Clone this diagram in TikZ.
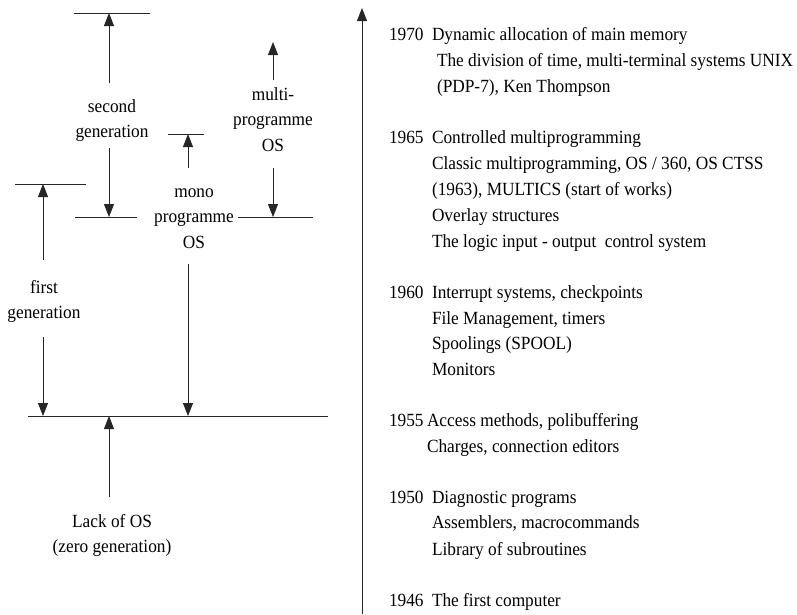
\documentclass[tikz,border=0pt]{standalone}
\usepackage{fontspec}
\setmainfont[FakeStretch=0.93]{Liberation Serif}
\usetikzlibrary{arrows.meta}
\newcommand{\stackc}[1]{\begin{tabular}[t]{@{}c@{}}#1\end{tabular}}
\begin{document}
\begin{tikzpicture}[x=1pt,y=-1pt,
  every node/.style={inner sep=0pt,outer sep=0pt,font=\fontsize{18.6}{25.5}\selectfont},
  bar/.style={line width=0.9pt,draw=black!85},
  conn/.style={line width=0.9pt,draw=black!85,-{Triangle[length=13pt,width=10pt]}},
  lbl/.style={anchor=base},
  ent/.style={anchor=base west}]
\useasboundingbox (0,0) rectangle (797,614);

% ---- generation bars ----
\coordinate (g2a) at (74,13);   \coordinate (g2b) at (150,13);
\coordinate (m1a) at (75,217);  \coordinate (m1b) at (137,217);
\coordinate (mta) at (168,134); \coordinate (mtb) at (204,134);
\coordinate (m2a) at (238,217); \coordinate (m2b) at (313,217);
\coordinate (g1a) at (15,184);  \coordinate (g1b) at (86,184);
\coordinate (z0a) at (28,416);  \coordinate (z0b) at (328,416);
\foreach \a/\b in {g2a/g2b,m1a/m1b,mta/mtb,m2a/m2b,g1a/g1b,z0a/z0b}
  \draw[bar] (\a) -- (\b);

% ---- labels ----
\node[lbl] (second) at (112,112) {\stackc{second\\generation}};
\node[lbl] (multi)  at (273,100) {\stackc{multi-\\programme\\OS}};
\node[lbl] (mono)   at (194,197) {\stackc{mono\\programme\\OS}};
\node[lbl] (first)  at (44,293)  {\stackc{first\\generation}};
\node[lbl] (zero)   at (112,527) {\stackc{Lack of OS\\(zero generation)}};

% ---- arrow ends ----
\coordinate (s2u) at (109,83);  \coordinate (s2ut) at (109,13);
\coordinate (s2d) at (109,148); \coordinate (s2dt) at (109,217);
\coordinate (mou) at (188,168); \coordinate (mout) at (188,134);
\coordinate (mod) at (188,264); \coordinate (modt) at (188,416);
\coordinate (mlu) at (273,80);  \coordinate (mlut) at (273,42);
\coordinate (mld) at (273,168); \coordinate (mldt) at (273,217);
\coordinate (f1u) at (43,260);  \coordinate (f1ut) at (43,184);
\coordinate (f1d) at (43,337);  \coordinate (f1dt) at (43,416);
\coordinate (z0u) at (109,497); \coordinate (z0ut) at (109,416);
\foreach \a/\b in {s2u/s2ut,s2d/s2dt,mou/mout,mod/modt,mlu/mlut,mld/mldt,f1u/f1ut,f1d/f1dt,z0u/z0ut}
  \draw[conn] (\a) -- (\b);

% ---- time axis ----
\coordinate (axb) at (362,614);
\coordinate (axt) at (362,8);
\draw[conn] (axb) -- (axt);

% ---- chronology ----
\node[ent] (y70) at (389,40) {1970};
\node[ent] (t70a) at (432,40) {Dynamic allocation of main memory};
\node[ent] (t70b) at (437,66) {The division of time, multi-terminal systems UNIX};
\node[ent] (t70c) at (437,92) {(PDP-7), Ken Thompson};

\node[ent] (y65) at (389,143) {1965};
\node[ent] (t65a) at (432,143) {Controlled multiprogramming};
\node[ent] (t65b) at (432,169) {Classic multiprogramming, OS / 360, OS CTSS};
\node[ent] (t65c) at (432,195) {(1963), MULTICS (start of works)};
\node[ent] (t65d) at (432,221) {Overlay structures};
\node[ent] (t65e) at (432,247) {The logic input - output\ \ control system};

\node[ent] (y60) at (389,298) {1960};
\node[ent] (t60a) at (432,298) {Interrupt systems, checkpoints};
\node[ent] (t60b) at (432,324) {File Management, timers};
\node[ent] (t60c) at (432,349) {Spoolings (SPOOL)};
\node[ent] (t60d) at (432,375) {Monitors};

\node[ent] (y55) at (389,426) {1955};
\node[ent] (t55a) at (427,426) {Access methods, polibuffering};
\node[ent] (t55b) at (427,452) {Charges, connection editors};

\node[ent] (y50) at (389,503) {1950};
\node[ent] (t50a) at (432,503) {Diagnostic programs};
\node[ent] (t50b) at (432,528) {Assemblers, macrocommands};
\node[ent] (t50c) at (432,555) {Library of subroutines};

\node[ent] (y46) at (389,606) {1946};
\node[ent] (t46a) at (432,606) {The first computer};
\end{tikzpicture}
\end{document}
